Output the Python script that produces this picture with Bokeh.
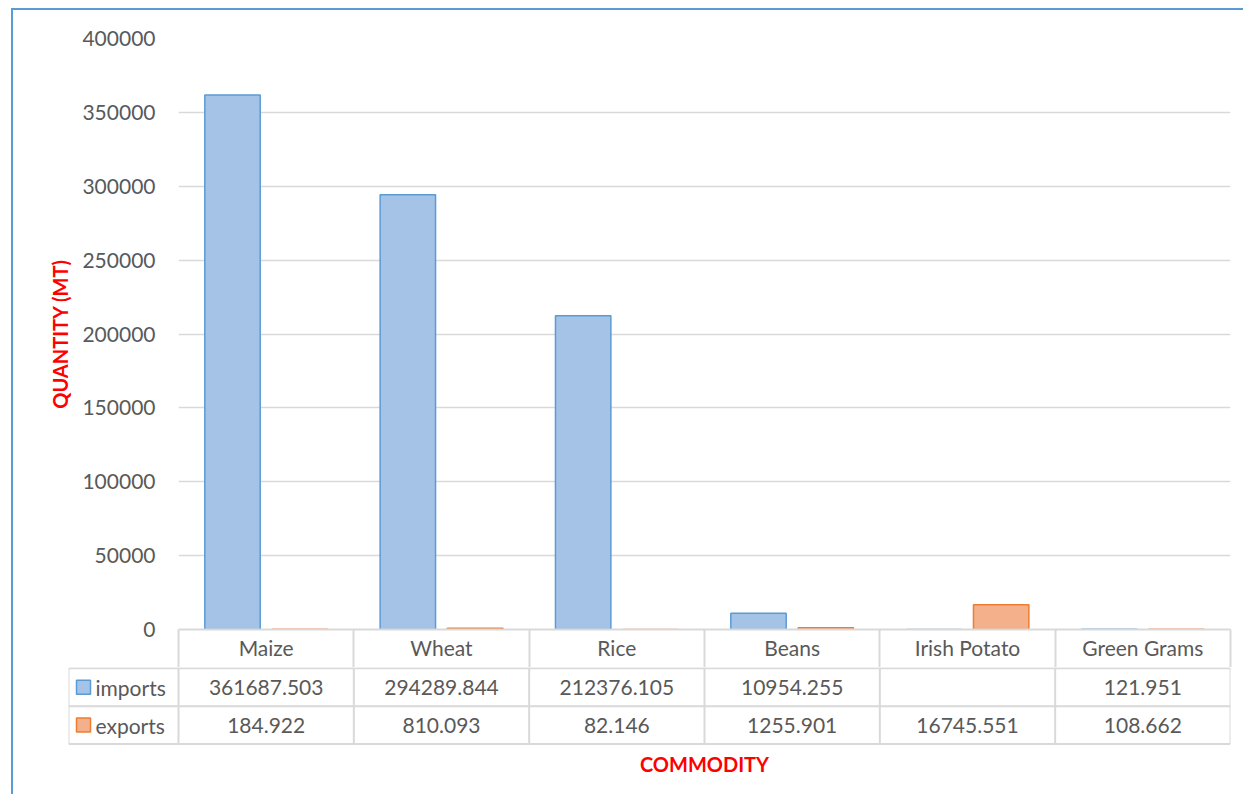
from bokeh.plotting import figure
from bokeh.layouts import column
from bokeh.models import Range1d, FixedTicker, ColumnDataSource, NumeralTickFormatter
from bokeh.transform import dodge
from bokeh.core.properties import value
from bokeh.embed import file_html
from bokeh.resources import INLINE

# ---------------- data ----------------
categories = ["Maize", "Wheat", "Rice", "Beans", "Irish Potato", "Green Grams"]
imports = [361687.503, 294289.844, 212376.105, 10954.255, None, 121.951]
exports = [184.922, 810.093, 82.146, 1255.901, 16745.551, 108.662]
series_names = ["imports", "exports"]
y_ticks = [0, 50000, 100000, 150000, 200000, 250000, 300000, 350000, 400000]
y_title = "QUANTITY (MT)"
x_title = "COMMODITY"

# ---------------- style ----------------
FONT = "Lato"
GRAY = "#595959"
GRID = "#d9d9d9"
RED = "#ff0000"
FILLS = ["#a5c3e7", "#f4b08a"]
LINES = ["#5b9bd5", "#ed7d31"]

W = 1230
H1 = 657
H2 = 127
BAR_W = 0.316
DODGE = 0.192

n = len(categories)
idx = list(range(n))
centers = [i + 0.5 for i in idx]
boundaries = list(range(n + 1))

# ---------------- bar chart ----------------
src = ColumnDataSource(dict(idx=idx, cat=categories, imports=imports, exports=exports))

p = figure(width=W, height=H1,
           x_range=Range1d(0, n),
           y_range=Range1d(0, max(y_ticks)),
           output_backend="svg", toolbar_location=None,
           min_border_left=165, min_border_right=13,
           min_border_top=28, min_border_bottom=38)
p.outline_line_color = None
p.background_fill_color = "white"
p.border_fill_color = "white"
p.xgrid.grid_line_color = None
p.ygrid.ticker = FixedTicker(ticks=y_ticks)
p.ygrid.grid_line_color = GRID
p.ygrid.grid_line_width = 1.5

ax = p.yaxis[0]
ax.ticker = FixedTicker(ticks=y_ticks)
ax.formatter = NumeralTickFormatter(format="0")
ax.axis_line_color = None
ax.major_tick_line_color = None
ax.minor_tick_line_color = None
ax.major_tick_out = 0
ax.major_tick_in = 0
ax.major_label_text_font = FONT
ax.major_label_text_font_size = "21px"
ax.major_label_text_color = GRAY
ax.major_label_standoff = 23
ax.axis_label = y_title
ax.axis_label_text_font = FONT
ax.axis_label_text_font_size = "20px"
ax.axis_label_text_font_style = "bold"
ax.axis_label_text_color = RED
ax.axis_label_standoff = 7

# x axis = header row of the data table
xa = p.xaxis[0]
xa.ticker = FixedTicker(ticks=centers, minor_ticks=boundaries)
xa.major_label_overrides = {c: name for c, name in zip(centers, categories)}
xa.axis_line_color = GRID
xa.axis_line_width = 2
xa.major_tick_line_color = None
xa.major_tick_out = 0
xa.major_tick_in = 0
xa.minor_tick_line_color = GRID
xa.minor_tick_line_width = 2
xa.minor_tick_out = 38
xa.minor_tick_in = 0
xa.major_label_text_font = FONT
xa.major_label_text_font_size = "21px"
xa.major_label_text_color = GRAY
xa.major_label_standoff = -33

for k, name in enumerate(series_names):
    off = 0.5 - DODGE if k == 0 else 0.5 + DODGE
    p.vbar(x=dodge("idx", off), top=name, bottom=0, width=BAR_W,
           source=src, fill_color=FILLS[k], line_color=LINES[k], line_width=1.5)

# ---------------- data table rows ----------------
legend_w = 110 / 175.33
row_px = 37.9
top_y = 0.98
t = figure(width=W, height=H2,
           x_range=Range1d(-legend_w, n), y_range=Range1d(top_y + H2 / row_px, top_y),
           x_axis_location=None, y_axis_location=None,
           output_backend="svg", toolbar_location=None,
           min_border_left=55, min_border_right=13,
           min_border_top=0, min_border_bottom=0)
t.outline_line_color = None
t.grid.visible = False
t.background_fill_color = "white"
t.border_fill_color = "white"

for fig in (p, t):
    if hasattr(fig, "frame_align"):
        fig.frame_align = False

rows = [1, 2, 3]
t.segment(x0=[-legend_w] * len(rows), y0=rows, x1=[n] * len(rows), y1=rows,
          line_color=GRID, line_width=2)
vx = [-legend_w] + boundaries
t.segment(x0=vx, y0=[1] * len(vx), x1=vx, y1=[3] * len(vx), line_color=GRID, line_width=2)

fmt = lambda v: "" if v is None else f"{v:.3f}"
t.text(x=centers, y=[1.5] * n, text=[fmt(v) for v in imports], text_font=value(FONT),
       text_font_size="21px", text_color=GRAY, text_align="center", text_baseline="middle")
t.text(x=centers, y=[2.5] * n, text=[fmt(v) for v in exports], text_font=value(FONT),
       text_font_size="21px", text_color=GRAY, text_align="center", text_baseline="middle")

# legend keys
t.rect(x=[-legend_w + 15 / 175.33] * 2, y=[1.5, 2.5], width=14, height=14,
       width_units="screen", height_units="screen",
       fill_color=FILLS, line_color=LINES, line_width=1.5)
t.text(x=[-legend_w + 27 / 175.33] * 2, y=[1.5, 2.5], text=series_names,
       text_font=value(FONT), text_font_size="21px", text_color=GRAY,
       text_align="left", text_baseline="middle")

# x axis title
t.text(x=[n / 2], y=[top_y + (763 - 667) / row_px], text=[x_title], text_font=value(FONT),
       text_font_size="20px", text_font_style="bold", text_color=RED,
       text_align="center", text_baseline="middle")

layout = column(p, t, margin=(8, 0, 0, 11),
                styles={"border-left": "2px solid #5b9bd5", "border-top": "2px solid #5b9bd5"})

open("out.html", "w").write(file_html(layout, INLINE))
